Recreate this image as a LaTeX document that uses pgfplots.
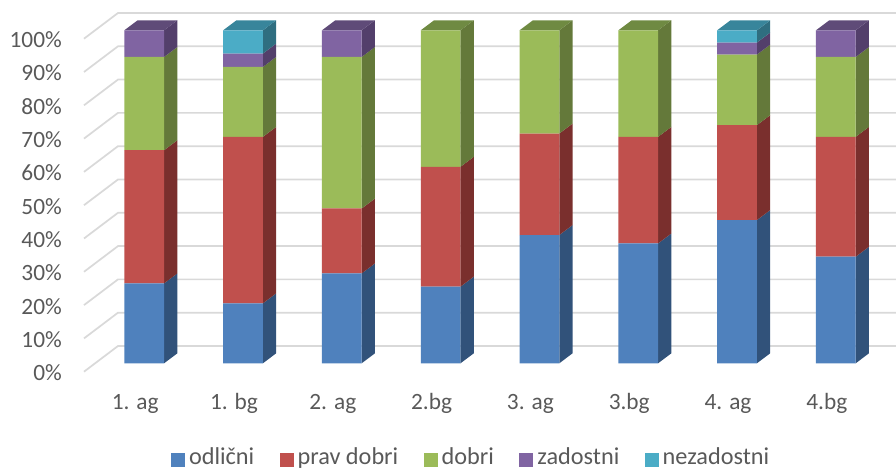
\documentclass[border=0pt]{standalone}
\usepackage{pgfplots}
\usepackage{pgfplotstable}
\usepackage{fontspec}
\setmainfont{Carlito}
\pgfplotsset{compat=1.18}
\definecolor{txt}{HTML}{595959}
\definecolor{gridc}{HTML}{D9D9D9}
\definecolor{cA}{HTML}{4F81BD}\definecolor{cAs}{HTML}{31527A}
\definecolor{cB}{HTML}{C0504D}\definecolor{cBs}{HTML}{7A2F2D}
\definecolor{cC}{HTML}{9BBB59}\definecolor{cCs}{HTML}{64793A}\definecolor{cCt}{HTML}{6F8A42}
\definecolor{cD}{HTML}{8064A2}\definecolor{cDs}{HTML}{533F6B}\definecolor{cDt}{HTML}{5F4B78}
\definecolor{cE}{HTML}{4BACC6}\definecolor{cEs}{HTML}{2F6E80}\definecolor{cEt}{HTML}{38859B}
\pgfplotstableread{
x odlicni prav dobri zadostni nezadostni
0 24   40   28   8   0
1 18   50   21   4   7
2 27   19.5 45.5 8   0
3 23   36   41   0   0
4 38.5 30.5 31   0   0
5 36   32   32   0   0
6 43   28.5 21.2 3.6 3.7
7 32   36   24   8   0
}\grades
\pgfplotsset{canvas/.style={
  width=672pt,height=352.5pt,scale only axis,
  xmin=-1.4595,xmax=7.609,ymin=-32.04,ymax=109.1,
}}
\newcommand\side[4]{%
  \pgfmathsetmacro\xa{#1+0.2009}\pgfmathsetmacro\xb{#1+0.3355}%
  \pgfmathsetmacro\ya{#2+3}\pgfmathsetmacro\yb{#3+3}%
  \addplot[fill=#4,draw=none,no marks,forget plot] coordinates {(\xa,#2)(\xb,\ya)(\xb,\yb)(\xa,#3)};}
\newcommand\topf[2]{%
  \pgfmathsetmacro\xa{#1-0.2009}\pgfmathsetmacro\xb{#1+0.2009}%
  \pgfmathsetmacro\xc{#1+0.3355}\pgfmathsetmacro\xd{#1-0.0663}%
  \addplot[fill=#2,draw=none,no marks,forget plot] coordinates {(\xa,100)(\xb,100)(\xc,103)(\xd,103)};}
\newcommand\gridl[1]{%
  \pgfmathsetmacro\ya{#1-2.52}\pgfmathsetmacro\yb{#1+5.2}%
  \addplot[gridc,line width=1.3pt,no marks,forget plot] coordinates {(-0.6093,\ya)(-0.2652,\yb)(7.609,\yb)};}
\begin{document}
\begin{tikzpicture}
\useasboundingbox (0,0) rectangle (672pt,352.5pt);
\begin{axis}[canvas,hide axis]
\gridl{0}\gridl{10}\gridl{20}\gridl{30}\gridl{40}\gridl{50}\gridl{60}\gridl{70}\gridl{80}\gridl{90}\gridl{100}
% 1. ag
\side{0}{0}{24}{cAs}\side{0}{24}{64}{cBs}\side{0}{64}{92}{cCs}\side{0}{92}{100}{cDs}\topf{0}{cDt}
% 1. bg
\side{1}{0}{18}{cAs}\side{1}{18}{68}{cBs}\side{1}{68}{89}{cCs}\side{1}{89}{93}{cDs}\side{1}{93}{100}{cEs}\topf{1}{cEt}
% 2. ag
\side{2}{0}{27}{cAs}\side{2}{27}{46.5}{cBs}\side{2}{46.5}{92}{cCs}\side{2}{92}{100}{cDs}\topf{2}{cDt}
% 2.bg
\side{3}{0}{23}{cAs}\side{3}{23}{59}{cBs}\side{3}{59}{100}{cCs}\topf{3}{cCt}
% 3. ag
\side{4}{0}{38.5}{cAs}\side{4}{38.5}{69}{cBs}\side{4}{69}{100}{cCs}\topf{4}{cCt}
% 3.bg
\side{5}{0}{36}{cAs}\side{5}{36}{68}{cBs}\side{5}{68}{100}{cCs}\topf{5}{cCt}
% 4. ag
\side{6}{0}{43}{cAs}\side{6}{43}{71.5}{cBs}\side{6}{71.5}{92.7}{cCs}\side{6}{92.7}{96.3}{cDs}\side{6}{96.3}{100}{cEs}\topf{6}{cEt}
% 4.bg
\side{7}{0}{32}{cAs}\side{7}{32}{68}{cBs}\side{7}{68}{92}{cCs}\side{7}{92}{100}{cDs}\topf{7}{cDt}
\end{axis}
\begin{axis}[canvas,
  ybar stacked,bar width=29.8pt,
  axis line style={draw=none},major tick length=0pt,
  tick style={draw=none},
  xtick=data,
  xticklabels={1. ag,1. bg,2. ag,2.bg,3. ag,3.bg,4. ag,4.bg},
  ytick={0,10,...,100},
  yticklabel={\pgfmathprintnumber{\tick}\%},
  /pgf/number format/assume math mode=true,
  tick label style={font=\fontsize{17.5}{20}\selectfont,text=txt},
  xticklabel style={anchor=base,xshift=-6.75pt,yshift=45.6pt},
  yticklabel style={anchor=base east,xshift=49.9pt,yshift=-13pt},
  legend columns=5,
  legend style={at={(0.5262,0.0270)},anchor=center,draw=none,fill=none,
    font=\fontsize{18.2}{20}\selectfont,text=txt,
    /tikz/every even column/.append style={column sep=17pt},
    /tikz/every odd column/.append style={column sep=1pt}},
  legend image code/.code={\fill[#1] (0pt,-7.15pt) rectangle (10.5pt,3.35pt);},
]
\addplot[fill=cA,draw=none] table[x=x,y=odlicni]{\grades};
\addplot[fill=cB,draw=none] table[x=x,y=prav]{\grades};
\addplot[fill=cC,draw=none] table[x=x,y=dobri]{\grades};
\addplot[fill=cD,draw=none] table[x=x,y=zadostni]{\grades};
\addplot[fill=cE,draw=none] table[x=x,y=nezadostni]{\grades};
\legend{odlični,prav dobri,dobri,zadostni,nezadostni}
\end{axis}
\end{tikzpicture}
\end{document}
